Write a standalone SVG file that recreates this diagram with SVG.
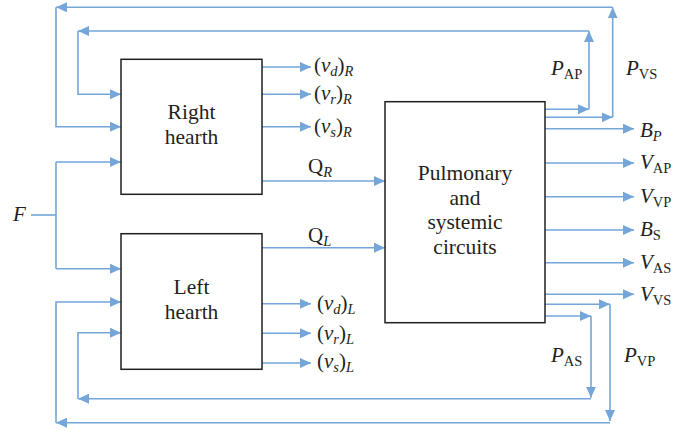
<svg xmlns="http://www.w3.org/2000/svg" width="676" height="432" viewBox="0 0 676 432">
<defs>
<marker id="ah" viewBox="0 0 11 10" refX="11" refY="5" markerWidth="11" markerHeight="10" markerUnits="userSpaceOnUse" orient="auto"><path d="M0,0 L11,5 L0,10 z" fill="#74a6da"/></marker>
<style>
.c{fill:none;stroke:#74a6da;stroke-width:1.6}
.a{marker-end:url(#ah)}
.box{fill:#fff;stroke:#231f20;stroke-width:1.5}
text{font-family:"Liberation Serif","DejaVu Serif",serif;fill:#231f20}
.n{font-size:21.5px;text-anchor:middle}
.l{font-size:21px;font-style:italic}
.s{font-size:14.5px}
.r{font-style:normal}
</style>
</defs>
<rect width="676" height="432" fill="#fff"/>
<g id="connectors">
<path class="c" d="M31,215 H56"/>
<path class="c" d="M56,162 V268.7"/>
<path class="c a" d="M56,162 H121"/>
<path class="c a" d="M56,268.7 H121"/>
<path class="c a" d="M262,67 H311"/>
<path class="c a" d="M262,94.3 H311"/>
<path class="c a" d="M262,126.7 H311"/>
<path class="c a" d="M262,181 H385"/>
<path class="c a" d="M262,247.7 H385"/>
<path class="c a" d="M262,303.7 H311"/>
<path class="c a" d="M262,333.3 H311"/>
<path class="c a" d="M262,363 H311"/>
<path class="c a" d="M545,109.3 H589"/>
<path class="c a" d="M589,109.3 V31"/>
<path class="c a" d="M589,31 H78"/>
<path class="c a" d="M78,31 V94.3 H121"/>
<path class="c a" d="M545,117.3 H612.7"/>
<path class="c a" d="M612.7,117.3 V7.3"/>
<path class="c a" d="M612.7,7.3 H56"/>
<path class="c a" d="M56,7.3 V126.7 H121"/>
<path class="c a" d="M545,128.7 H634"/>
<path class="c a" d="M545,163 H634"/>
<path class="c a" d="M545,196.7 H634"/>
<path class="c a" d="M545,230 H634"/>
<path class="c a" d="M545,262.7 H634"/>
<path class="c a" d="M545,294.3 H634"/>
<path class="c a" d="M545,304.3 H610"/>
<path class="c a" d="M610,304.3 V421"/>
<path class="c a" d="M610,422.7 H56"/>
<path class="c a" d="M56,422.7 V302 H121"/>
<path class="c a" d="M545,316 H591"/>
<path class="c a" d="M591,316 V397.7"/>
<path class="c a" d="M591,398.7 H78"/>
<path class="c a" d="M78,398.7 V332.7 H121"/>
</g>
<g id="right-hearth">
<rect class="box" x="121" y="59.3" width="141" height="135"/>
<text class="n" x="191.5" y="119">Right</text>
<text class="n" x="191.5" y="144">hearth</text>
</g>
<g id="left-hearth">
<rect class="box" x="121" y="233.7" width="141" height="135.6"/>
<text class="n" x="191.5" y="294">Left</text>
<text class="n" x="191.5" y="319">hearth</text>
</g>
<g id="circuits">
<rect class="box" x="385" y="101.7" width="160" height="221"/>
<text class="n" x="465" y="180">Pulmonary</text>
<text class="n" x="465" y="204.5">and</text>
<text class="n" x="465" y="229">systemic</text>
<text class="n" x="465" y="254">circuits</text>
</g>
<g id="labels">
<text class="l" x="13" y="221">F</text>
<text class="l" x="314" y="72"><tspan class="r">(</tspan>ν<tspan class="s" dy="4">d</tspan><tspan class="r" dy="-4">)</tspan><tspan class="s" dy="4">R</tspan></text>
<text class="l" x="314" y="100"><tspan class="r">(</tspan>ν<tspan class="s" dy="4">r</tspan><tspan class="r" dy="-4">)</tspan><tspan class="s" dy="4">R</tspan></text>
<text class="l" x="314" y="132.7"><tspan class="r">(</tspan>ν<tspan class="s" dy="4">s</tspan><tspan class="r" dy="-4">)</tspan><tspan class="s" dy="4">R</tspan></text>
<text class="l" x="308" y="173"><tspan class="r">Q</tspan><tspan class="s" dy="4">R</tspan></text>
<text class="l" x="308" y="242"><tspan class="r">Q</tspan><tspan class="s" dy="4">L</tspan></text>
<text class="l" x="317" y="310"><tspan class="r">(</tspan>ν<tspan class="s" dy="4">d</tspan><tspan class="r" dy="-4">)</tspan><tspan class="s" dy="4">L</tspan></text>
<text class="l" x="317" y="340"><tspan class="r">(</tspan>ν<tspan class="s" dy="4">r</tspan><tspan class="r" dy="-4">)</tspan><tspan class="s" dy="4">L</tspan></text>
<text class="l" x="317" y="368"><tspan class="r">(</tspan>ν<tspan class="s" dy="4">s</tspan><tspan class="r" dy="-4">)</tspan><tspan class="s" dy="4">L</tspan></text>
<text class="l" x="551" y="75">P<tspan class="s r" dy="4">AP</tspan></text>
<text class="l" x="626" y="75">P<tspan class="s r" dy="4">VS</tspan></text>
<text class="l" x="640" y="137">B<tspan class="s" dy="4">P</tspan></text>
<text class="l" x="640" y="169">V<tspan class="s r" dy="4">AP</tspan></text>
<text class="l" x="640" y="203">V<tspan class="s r" dy="4">VP</tspan></text>
<text class="l" x="640" y="236">B<tspan class="s r" dy="4">S</tspan></text>
<text class="l" x="640" y="269">V<tspan class="s r" dy="4">AS</tspan></text>
<text class="l" x="640" y="301">V<tspan class="s r" dy="4">VS</tspan></text>
<text class="l" x="551" y="362">P<tspan class="s r" dy="4">AS</tspan></text>
<text class="l" x="624" y="362">P<tspan class="s r" dy="4">VP</tspan></text>
</g>
</svg>
